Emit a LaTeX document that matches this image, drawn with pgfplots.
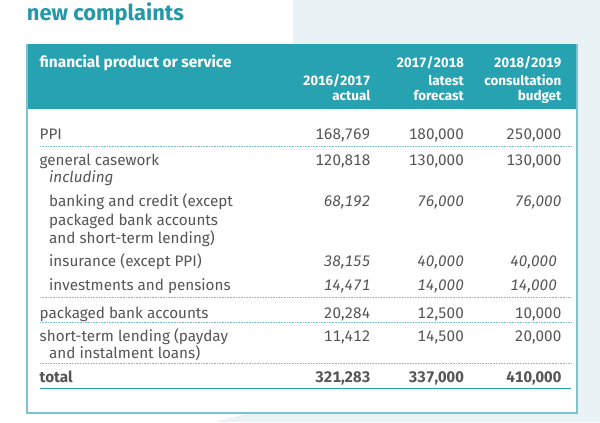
\documentclass[border=0pt]{standalone}
\usepackage{fontspec}
\setmainfont{Fira Sans}[Numbers={Monospaced,Lining}]
\usepackage{pgfplots}
\usepackage{pgfplotstable}
\pgfplotsset{compat=1.18}
\definecolor{teal1}{HTML}{27A2B1}
\definecolor{titlec}{HTML}{2398A8}
\definecolor{txt}{HTML}{555555}
\definecolor{lightbg}{HTML}{E9F3F6}
\definecolor{dotc}{HTML}{7FBFCC}
\definecolor{boxc}{HTML}{7DC3CF}

\pgfplotstableread{
x y label
370.5 139 168,769
464 139 180,000
561.5 139 250,000
370.5 165 120,818
464 165 130,000
561.5 165 130,000
370.5 318.3 20,284
464 318.3 12,500
561.5 318.3 10,000
370.5 341 11,412
464 341 14,500
561.5 341 20,000
}\regrows
\pgfplotstableread{
x y label
370.5 206.7 68,192
464 206.7 76,000
561.5 206.7 76,000
370.5 266.5 38,155
464 266.5 40,000
557 266.5 40,000
370.5 290.7 14,471
464 290.7 14,000
557 290.7 14,000
}\itrows
\pgfplotstableread{
x y label
370.5 382.7 321,283
464 382.7 337,000
561.5 382.7 410,000
}\totrow

\newcommand{\bs}{\fontsize{15.3}{18}\selectfont}

\begin{document}
\begin{tikzpicture}
\begin{axis}[scale only axis, width=600bp, height=422bp,
  xmin=0, xmax=600, ymin=0, ymax=422, y dir=reverse,
  hide axis, clip=false]
\fill[white] (axis cs:0,0) rectangle (axis cs:600,422);
\fill[lightbg] (axis cs:293,0) rectangle (axis cs:600,44);
\fill[lightbg] (axis cs:577,0) rectangle (axis cs:600,422);
\fill[lightbg] (axis cs:215,422) -- (axis cs:250,413) -- (axis cs:600,413) -- (axis cs:600,422) -- cycle;
\fill[teal1] (axis cs:27,44) rectangle (axis cs:577,108.5);
\draw[boxc, line width=1.2pt] (axis cs:27,44) -- (axis cs:27,413) -- (axis cs:577,413) -- (axis cs:577,44);
% rules
\draw[dotc, densely dotted, line width=0.6pt] (axis cs:40,146.5) -- (axis cs:571,146.5);
\draw[dotc, densely dotted, line width=0.6pt] (axis cs:40,297.7) -- (axis cs:571,297.7);
\draw[dotc, densely dotted, line width=0.6pt] (axis cs:40,322.3) -- (axis cs:571,322.3);
\draw[dotc, densely dotted, line width=0.6pt] (axis cs:40,363.3) -- (axis cs:571,363.3);
\draw[teal1, line width=1pt] (axis cs:40,388.3) -- (axis cs:571,388.3);
% title
\node[anchor=base west, inner sep=0pt, text=titlec, font=\fontsize{22}{26}\selectfont\bfseries] at (axis cs:26.7,21) {new complaints};
% header
\begin{scope}[every node/.style={inner sep=0pt, text=white, font=\fontsize{13.5}{16}\selectfont\bfseries}]
\node[anchor=base west, font=\fontsize{15.5}{18}\selectfont\bfseries] at (axis cs:39.5,67) {financial product or service};
\node[anchor=base east] at (axis cs:370.5,85) {2016/2017};
\node[anchor=base east] at (axis cs:370.5,100.5) {actual};
\node[anchor=base east] at (axis cs:464,67.3) {2017/2018};
\node[anchor=base east] at (axis cs:464,85) {latest};
\node[anchor=base east] at (axis cs:464,100.5) {forecast};
\node[anchor=base east] at (axis cs:561.5,67.3) {2018/2019};
\node[anchor=base east] at (axis cs:561.5,85) {consultation};
\node[anchor=base east] at (axis cs:561.5,100.5) {budget};
\end{scope}
% row labels
\begin{scope}[every node/.style={inner sep=0pt, anchor=base west, text=txt, font=\bs}]
\node at (axis cs:39.5,139) {PPI};
\node at (axis cs:39.5,165) {general casework};
\node[font=\bs\itshape] at (axis cs:49,182.7) {including};
\node at (axis cs:49,206.7) {banking and credit (except};
\node at (axis cs:49,225) {packaged bank accounts};
\node at (axis cs:49,243.3) {and short-term lending)};
\node at (axis cs:49,266.5) {insurance (except PPI)};
\node at (axis cs:49,290.7) {investments and pensions};
\node at (axis cs:39.5,318.3) {packaged bank accounts};
\node at (axis cs:39.5,341) {short-term lending (payday};
\node at (axis cs:49,358.7) {and instalment loans)};
\node[font=\bs\bfseries] at (axis cs:39.5,382.7) {total};
\end{scope}
% values
\addplot[draw=none, mark=none, nodes near coords, point meta=explicit symbolic,
  every node near coord/.append style={anchor=base east, inner sep=0pt, text=txt, font=\bs}]
  table[x=x, y=y, meta=label] {\regrows};
\addplot[draw=none, mark=none, nodes near coords, point meta=explicit symbolic,
  every node near coord/.append style={anchor=base east, inner sep=0pt, text=txt, font=\bs\itshape}]
  table[x=x, y=y, meta=label] {\itrows};
\addplot[draw=none, mark=none, nodes near coords, point meta=explicit symbolic,
  every node near coord/.append style={anchor=base east, inner sep=0pt, text=txt, font=\bs\bfseries}]
  table[x=x, y=y, meta=label] {\totrow};
\end{axis}
\end{tikzpicture}
\end{document}
